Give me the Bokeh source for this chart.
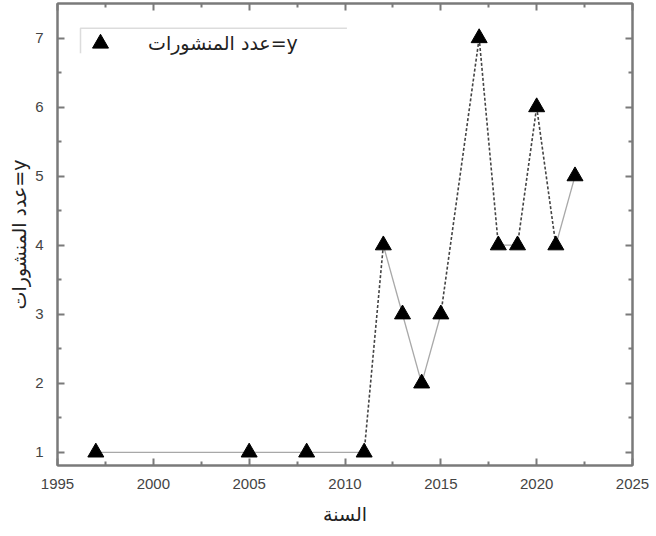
from bokeh.plotting import figure
from bokeh.models import (ColumnDataSource, Legend, LegendItem, LinearAxis,
                          FixedTicker, Range1d, PolyAnnotation)
from bokeh.embed import file_html
from bokeh.resources import INLINE

# ---- data ----
years = [1997, 2005, 2008, 2011, 2012, 2013, 2014, 2015, 2017, 2018, 2019, 2020, 2021, 2022]
counts = [1, 1, 1, 1, 4, 3, 2, 3, 7, 4, 4, 6, 4, 5]
# style of the segment that joins point i to point i+1
seg_style = ["solid", "solid", "solid", "dashed", "solid", "solid", "solid",
             "dashed", "dashed", "solid", "dashed", "dashed", "solid"]
x_ticks = [1995, 2000, 2005, 2010, 2015, 2020, 2025]
y_ticks = [1, 2, 3, 4, 5, 6, 7]
series_label = "عدد المنشورات=y"
x_label = "السنة"
y_label = "عدد المنشورات=y"

FONT = "Liberation Sans, Arial, DejaVu Sans, sans-serif"
AFONT = "DejaVu Sans, Liberation Sans, sans-serif"
AX = "#7a7a7a"

p = figure(width=656, height=536, output_backend="svg", toolbar_location=None,
           x_range=Range1d(1995, 2025), y_range=Range1d(0.81, 7.5),
           min_border_left=57, min_border_right=24, min_border_top=3,
           min_border_bottom=71, x_axis_location=None, y_axis_location=None)
p.grid.visible = False
p.outline_line_color = AX
p.outline_line_width = 2
p.background_fill_color = "white"
p.border_fill_color = "white"

def style_axis(ax, ticks, labels=True):
    step = ticks[1] - ticks[0]
    ax.ticker = FixedTicker(ticks=ticks,
                            minor_ticks=[t + 0.5 * step for t in ticks[:-1]]
                            + [ticks[0] - 0.5 * step])
    ax.axis_line_color = AX
    ax.axis_line_width = 2
    ax.major_tick_line_color = AX
    ax.minor_tick_line_color = AX
    ax.major_tick_line_width = 2
    ax.minor_tick_line_width = 2
    ax.major_tick_in = 7
    ax.major_tick_out = 0
    ax.minor_tick_in = 4
    ax.minor_tick_out = 0
    ax.major_label_text_font = FONT
    ax.major_label_text_font_size = "15px"
    ax.major_label_text_color = "#444444"
    ax.axis_label_text_font = AFONT
    ax.axis_label_text_font_size = "19px"
    ax.axis_label_text_font_style = "normal"
    ax.axis_label_text_color = "#222222"
    if not labels:
        ax.major_label_text_font_size = "0px"
        ax.major_label_text_alpha = 0

xb = LinearAxis(axis_label=x_label)
style_axis(xb, x_ticks)
xb.major_label_standoff = 13
xb.axis_label_standoff = 11
p.add_layout(xb, "below")

yl = LinearAxis(axis_label=y_label)
style_axis(yl, y_ticks)
yl.major_label_standoff = 14
yl.axis_label_standoff = 2
p.add_layout(yl, "left")

xt = LinearAxis()
style_axis(xt, x_ticks, labels=False)
xt.major_label_standoff = 0
p.add_layout(xt, "above")

yr = LinearAxis()
style_axis(yr, y_ticks, labels=False)
yr.major_label_standoff = 0
p.add_layout(yr, "right")

# ---- connecting segments ----
solid = dict(x0=[], y0=[], x1=[], y1=[])
dashed = dict(x0=[], y0=[], x1=[], y1=[])
for i, st in enumerate(seg_style):
    d = solid if st == "solid" else dashed
    d["x0"].append(years[i]); d["y0"].append(counts[i])
    d["x1"].append(years[i + 1]); d["y1"].append(counts[i + 1])

p.segment(x0="x0", y0="y0", x1="x1", y1="y1", source=ColumnDataSource(solid),
          line_color="#a8a8a8", line_width=1.3)
p.segment(x0="x0", y0="y0", x1="x1", y1="y1", source=ColumnDataSource(dashed),
          line_color="#444444", line_width=1.6, line_dash="3 2")

# ---- markers ----
src = ColumnDataSource(dict(x=years, y=counts))
pts = p.scatter("x", "y", source=src, marker="triangle", size=16,
                fill_color="black", line_color="black", line_width=1)

# ---- legend ----
legend = Legend(items=[LegendItem(label=series_label, renderers=[pts])],
                location="top_left", margin=10, padding=10,
                glyph_width=46, glyph_height=40, label_standoff=25,
                label_text_font=AFONT, label_text_font_size="19px",
                label_text_color="#222222",
                border_line_alpha=0, background_fill_alpha=0)
p.add_layout(legend, "center")

# partial frame of the legend box (top and left edges only)
frame = PolyAnnotation(xs=[2010.1, 1996.2, 1996.2, 1996.2],
                       ys=[7.143, 7.143, 6.78, 7.143],
                       fill_alpha=0, line_color="#8a8a8a", line_width=1.5)
p.add_layout(frame)

open("out.html", "w").write(file_html(p, INLINE))
